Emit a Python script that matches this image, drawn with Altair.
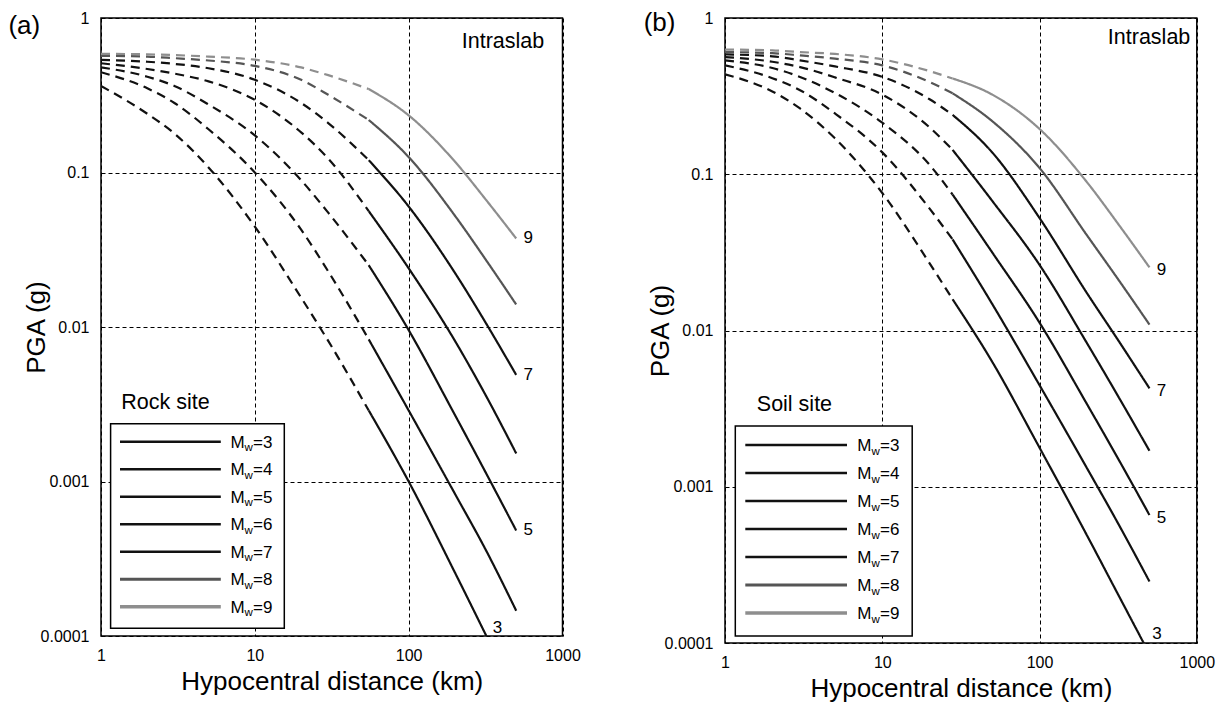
import altair as alt
import pandas as pd

FONT = "Liberation Sans"
magnitudes = [3, 4, 5, 6, 7, 8, 9]
mag_colors = ["#111111", "#111111", "#111111", "#111111", "#111111", "#555555", "#8e8e8e"]
mag_widths = [2.2, 2.2, 2.2, 2.2, 2.2, 2.6, 3.2]

# ---------- (a) Rock site : log10 PGA (g) ----------
rock_dist = [1, 2, 3, 5, 10, 20, 30, 55, 100, 200, 320, 500]
rock_M3 = [-0.44, -0.62, -0.748, -0.967, -1.35, -1.81, -2.09, -2.54, -3.0, -3.59, -4.0, None]
rock_M4 = [-0.351, -0.455, -0.55, -0.72, -1.0, -1.37, -1.64, -2.08, -2.54, -3.08, -3.45, -3.836]
rock_M5 = [-0.319, -0.38, -0.44, -0.56, -0.76, -1.05, -1.26, -1.60, -2.02, -2.57, -2.95, -3.317]
rock_M6 = [-0.293, -0.33, -0.36, -0.41, -0.53, -0.74, -0.91, -1.25, -1.62, -2.09, -2.45, -2.818]
rock_M7 = [-0.271, -0.283, -0.297, -0.325, -0.40, -0.55, -0.68, -0.92, -1.22, -1.65, -1.98, -2.31]
rock_M8 = [-0.245, -0.25, -0.26, -0.275, -0.31, -0.40, -0.497, -0.66, -0.90, -1.28, -1.57, -1.854]
rock_M9 = [-0.232, -0.235, -0.24, -0.25, -0.27, -0.32, -0.37, -0.46, -0.63, -0.93, -1.18, -1.427]
rock_dashed_below = 55     # km: curves drawn dashed at shorter distances
rock_M3_end = 320          # km where M3 reaches 0.0001 g

# ---------- (b) Soil site ----------
soil_dist = [1, 2, 3, 5, 10, 20, 28, 50, 100, 200, 320, 500]
soil_M3 = [-0.36, -0.47, -0.579, -0.77, -1.12, -1.57, -1.80, -2.2, -2.75, -3.31, -3.70, -4.07]
soil_M4 = [-0.303, -0.385, -0.462, -0.611, -0.86, -1.22, -1.417, -1.83, -2.35, -2.88, -3.245, -3.606]
soil_M5 = [-0.271, -0.32, -0.377, -0.48, -0.67, -0.94, -1.13, -1.5, -1.95, -2.47, -2.83, -3.181]
soil_M6 = [-0.25, -0.28, -0.314, -0.38, -0.49, -0.70, -0.844, -1.17, -1.58, -2.08, -2.43, -2.77]
soil_M7 = [-0.233, -0.245, -0.271, -0.31, -0.377, -0.52, -0.62, -0.86, -1.28, -1.76, -2.07, -2.37]
soil_M8 = [-0.218, -0.225, -0.239, -0.26, -0.303, -0.41, -0.482, -0.66, -0.96, -1.39, -1.68, -1.962]
soil_M9 = [-0.202, -0.207, -0.218, -0.23, -0.265, -0.34, -0.387, -0.49, -0.71, -1.05, -1.325, -1.596]
soil_dashed_below = 28
soil_M3_end = 468

x_ticks = [1, 10, 100, 1000]
y_ticks = [1, 0.1, 0.01, 0.001, 0.0001]

one = pd.DataFrame({"a": [0]})


def curve_frame(dist, curves, dashed_below):
    rows = []
    for m, vals in zip(magnitudes, curves):
        for d, v in zip(dist, vals):
            if v is None:
                continue
            p = 10 ** v
            if d <= dashed_below:
                rows.append(dict(mag=str(m), seg="dashed", key=f"{m}d", dist=d, pga=p))
            if d >= dashed_below:
                rows.append(dict(mag=str(m), seg="solid", key=f"{m}s", dist=d, pga=p))
    return pd.DataFrame(rows)


def panel(dist, curves, dashed_below, m3_end, W, H, tag, tag_x, tag_y, site,
          lg, intra_x, intra_y, end_dy, m3_dx, m3_dy):
    xs = alt.Scale(type="log", domain=[1, 1000], nice=False)
    ys = alt.Scale(type="log", domain=[0.0001, 1], nice=False)
    xaxis = alt.Axis(values=x_ticks, format="~g", grid=True, gridDash=[4, 3],
                     gridColor="black", gridWidth=1, gridOpacity=1, ticks=False,
                     domain=False, labelFont=FONT, labelFontSize=16, labelColor="black",
                     labelPadding=11, labelFlush=False, labelOverlap=False,
                     titleFont=FONT, titleFontSize=26, titleFontWeight="normal",
                     titleColor="black", titleBaseline="alphabetic", titleY=53)
    yaxis = alt.Axis(values=y_ticks, format="~g", grid=True, gridDash=[4, 3],
                     gridColor="black", gridWidth=1, gridOpacity=1, ticks=False,
                     domain=False, labelFont=FONT, labelFontSize=16, labelColor="black",
                     labelPadding=12, labelOverlap=False,
                     titleFont=FONT, titleFontSize=26, titleFontWeight="normal",
                     titleColor="black", titleBaseline="middle", titleX=-65)
    X = alt.X("dist:Q", scale=xs, axis=xaxis, title="Hypocentral distance (km)")
    Y = alt.Y("pga:Q", scale=ys, axis=yaxis, title="PGA (g)")

    df = curve_frame(dist, curves, dashed_below)
    lines = alt.Chart(df).mark_line(interpolate="monotone", clip=True).encode(
        x=X, y=Y,
        color=alt.Color("mag:N", scale=alt.Scale(domain=[str(m) for m in magnitudes],
                                                range=mag_colors), legend=None),
        strokeWidth=alt.StrokeWidth("mag:N", scale=alt.Scale(domain=[str(m) for m in magnitudes],
                                                             range=mag_widths), legend=None),
        strokeDash=alt.StrokeDash("seg:N", scale=alt.Scale(domain=["dashed", "solid"],
                                                           range=[[9, 6], [1, 0]]), legend=None),
        detail="key:N",
    )

    ends = pd.DataFrame({
        "lab": ["5", "7", "9"],
        "dist": [dist[-1]] * 3,
        "pga": [10 ** curves[2][-1], 10 ** curves[4][-1], 10 ** curves[6][-1]],
    })
    end_text = alt.Chart(ends).mark_text(font=FONT, fontSize=17, color="black", align="center",
                                         baseline="middle", dx=12, dy=end_dy).encode(
        x=X, y=Y, text="lab:N")
    m3_lab = pd.DataFrame({"lab": ["3"], "dist": [m3_end], "pga": [0.0001]})
    m3_text = alt.Chart(m3_lab).mark_text(font=FONT, fontSize=17, color="black", align="center",
                                          baseline="middle", dx=m3_dx, dy=m3_dy).encode(
        x=X, y=Y, text="lab:N")

    layers = [lines, end_text, m3_text]
    layers.append(alt.Chart(one).mark_text(text="Intraslab", font=FONT, fontSize=21.5, color="black",
                                           align="right", baseline="alphabetic").encode(
        x=alt.value(intra_x), y=alt.value(intra_y)))
    layers.append(alt.Chart(one).mark_text(text=tag, font=FONT, fontSize=26, color="black",
                                           align="left", baseline="alphabetic").encode(
        x=alt.value(tag_x), y=alt.value(tag_y)))
    # legend box
    layers.append(alt.Chart(one).mark_rect(fill="white", stroke="black", strokeWidth=1.5).encode(
        x=alt.value(lg["bx0"]), x2=alt.value(lg["bx1"]),
        y=alt.value(lg["by0"]), y2=alt.value(lg["by1"])))
    layers.append(alt.Chart(one).mark_text(text=site, font=FONT, fontSize=21.5, color="black",
                                           align="left", baseline="alphabetic").encode(
        x=alt.value(lg["tx"]), y=alt.value(lg["ty"])))
    for i, m in enumerate(magnitudes):
        yy = lg["ly0"] + i * lg["ldy"]
        layers.append(alt.Chart(one).mark_rule(color=mag_colors[i], strokeWidth=mag_widths[i] + 0.3).encode(
            x=alt.value(lg["lx0"]), x2=alt.value(lg["lx1"]), y=alt.value(yy)))
        layers.append(alt.Chart(one).mark_text(text="M", font=FONT, fontSize=17, color="black",
                                               align="left", baseline="alphabetic").encode(
            x=alt.value(lg["mx"]), y=alt.value(yy + 6)))
        layers.append(alt.Chart(one).mark_text(text="w", font=FONT, fontSize=11.5, color="black",
                                               align="left", baseline="alphabetic").encode(
            x=alt.value(lg["mx"] + 14.2), y=alt.value(yy + 9.5)))
        layers.append(alt.Chart(one).mark_text(text=f"={m}", font=FONT, fontSize=17, color="black",
                                               align="left", baseline="alphabetic").encode(
            x=alt.value(lg["mx"] + 22.7), y=alt.value(yy + 6)))
    return alt.layer(*layers).properties(width=W, height=H)


# legend / label placement (pixels relative to each plot area)
rock_legend = dict(bx0=9.6, bx1=183.3, by0=405.7, by1=610.3, tx=20.3, ty=391,
                   lx0=19, lx1=119.8, ly0=423.7, ldy=27.5, mx=129.4)
soil_legend = dict(bx0=10.3, bx1=187.2, by0=408, by1=618, tx=31.8, ty=393,
                   lx0=20.3, lx1=122, ly0=427, ldy=28, mx=132.3)

left = panel(rock_dist, [rock_M3, rock_M4, rock_M5, rock_M6, rock_M7, rock_M8, rock_M9],
             rock_dashed_below, rock_M3_end, 461.5, 618, "(a)", -92.6, 15.8, "Rock site",
             rock_legend, 443.2, 30.3, 0, 11, -8)
right = panel(soil_dist, [soil_M3, soil_M4, soil_M5, soil_M6, soil_M7, soil_M8, soil_M9],
              soil_dashed_below, soil_M3_end, 471.8, 625, "(b)", -81.3, 12.5, "Soil site",
              soil_legend, 465.3, 25.7, 3, 12, -9.5)

chart = alt.hconcat(left, right, spacing=60).properties(
    padding={"left": 7, "top": 8, "right": 5, "bottom": 5},
    background="white",
).configure_view(stroke="black", strokeWidth=1.5)

chart.save("out.html", embed_options={"renderer": "svg", "actions": False})
